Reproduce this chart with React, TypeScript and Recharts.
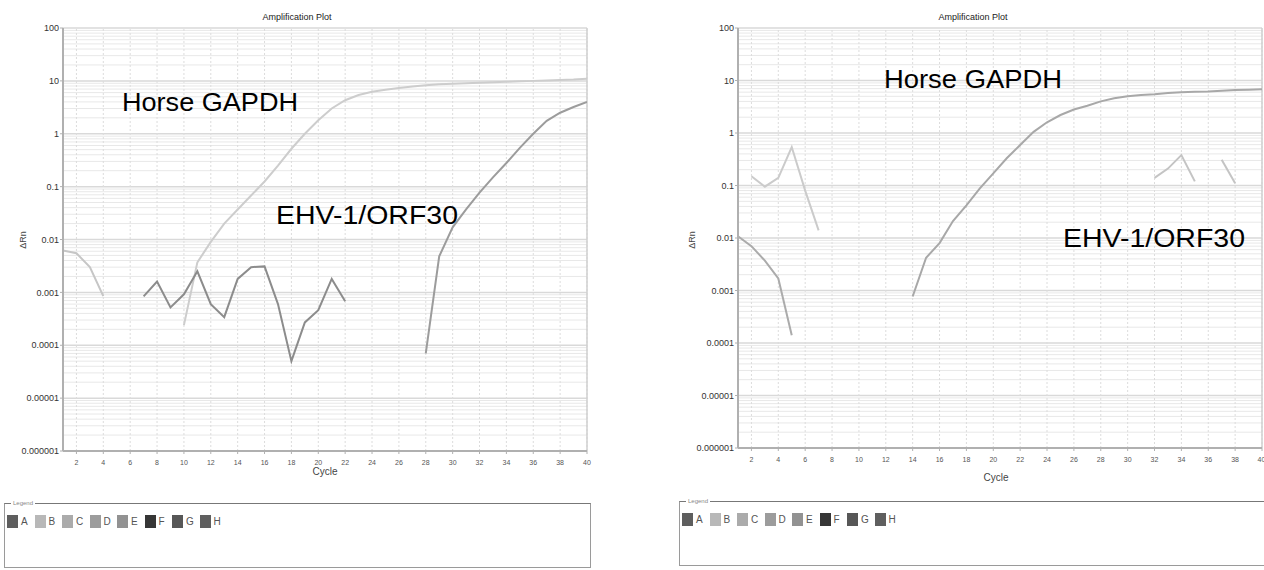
import React from 'react'
import { LineChart, Line, XAxis, YAxis, ReferenceLine } from 'recharts'

// cycle numbers on the x axis
const cycles = [1, 2, 3, 4, 5, 6, 7, 8, 9, 10, 11, 12, 13, 14, 15, 16, 17, 18, 19, 20,
  21, 22, 23, 24, 25, 26, 27, 28, 29, 30, 31, 32, 33, 34, 35, 36, 37, 38, 39, 40]
const cycleTicks = [2, 4, 6, 8, 10, 12, 14, 16, 18, 20, 22, 24, 26, 28, 30, 32, 34, 36, 38, 40]
const yTicks = [0.000001, 0.00001, 0.0001, 0.001, 0.01, 0.1, 1, 10, 100]
const yTickLabels = ['0.000001', '0.00001', '0.0001', '0.001', '0.01', '0.1', '1', '10', '100']

const wells = ['A', 'B', 'C', 'D', 'E', 'F', 'G', 'H']
const wellColors = ['#5e5e5e', '#b8b8b8', '#ababab', '#9c9c9c', '#929292', '#363636', '#575757', '#5f5f5f']

// left plot: each series starts at the given cycle
const leftGapdhStart = 10
const leftGapdh = [0.00024, 0.0037, 0.009, 0.02, 0.037, 0.068, 0.125, 0.25, 0.52, 1.0, 1.8, 3.0, 4.3,
  5.4, 6.2, 6.8, 7.3, 7.8, 8.3, 8.6, 8.8, 9.0, 9.2, 9.4, 9.6, 9.8, 10.0, 10.2, 10.4, 10.6, 11.0]
const leftEarlyStart = 1
const leftEarly = [0.0062, 0.0055, 0.003, 0.00085]
const leftNoiseStart = 7
const leftNoise = [0.00084, 0.0016, 0.00052, 0.00092, 0.0025, 0.0006, 0.00034, 0.0018, 0.003, 0.0031,
  0.0006, 0.00005, 0.00027, 0.00046, 0.0018, 0.00068]
const leftEhvStart = 28
const leftEhv = [0.00007, 0.0048, 0.017, 0.037, 0.077, 0.15, 0.28, 0.54, 1.0, 1.76, 2.5, 3.2, 4.0]

// right plot
const rightGapdhStart = 14
const rightGapdh = [0.00077, 0.0042, 0.008, 0.021, 0.042, 0.088, 0.17, 0.33, 0.59, 1.05, 1.6, 2.2, 2.8,
  3.3, 4.0, 4.6, 5.0, 5.3, 5.5, 5.8, 6.0, 6.1, 6.2, 6.4, 6.6, 6.7, 6.8]
const rightEarlyLightStart = 2
const rightEarlyLight = [0.15, 0.095, 0.14, 0.54, 0.08, 0.014]
const rightEarlyDarkStart = 1
const rightEarlyDark = [0.0108, 0.007, 0.0037, 0.0017, 0.00014]
const rightLateAStart = 32
const rightLateA = [0.14, 0.21, 0.38, 0.12]
const rightLateBStart = 37
const rightLateB = [0.31, 0.11]

const at = (vals: number[], start: number, c: number) => {
  const i = c - start
  return i >= 0 && i < vals.length ? vals[i] : null
}

const leftData = cycles.map(c => ({
  cycle: c,
  gapdh: at(leftGapdh, leftGapdhStart, c),
  early: at(leftEarly, leftEarlyStart, c),
  noise: at(leftNoise, leftNoiseStart, c),
  ehv: at(leftEhv, leftEhvStart, c),
}))

const rightData = cycles.map(c => ({
  cycle: c,
  gapdh: at(rightGapdh, rightGapdhStart, c),
  earlyLight: at(rightEarlyLight, rightEarlyLightStart, c),
  earlyDark: at(rightEarlyDark, rightEarlyDarkStart, c),
  lateA: at(rightLateA, rightLateAStart, c),
  lateB: at(rightLateB, rightLateBStart, c),
}))

// log grid lines: 2..9 x each decade
const minorGrid: number[] = []
for (let e = -6; e < 2; e++) {
  for (let m = 2; m < 10; m++) minorGrid.push(Number((m * Math.pow(10, e)).toPrecision(3)))
}

const narrow = "'Liberation Sans Narrow', 'Arial Narrow', 'Liberation Sans', Arial, sans-serif"

interface SeriesDef { key: string; color: string }

const Plot = ({ data, series, left, width, right, bottom }:
  { data: any[]; series: SeriesDef[]; left: number; width: number; right: number; bottom: number }) => (
  <div style={{ position: 'absolute', left, top: 0 }}>
    <LineChart width={width} height={480} data={data} margin={{ top: 28, right, bottom, left: 0 }}>
      {minorGrid.map(v => (
        <ReferenceLine key={'m' + v} y={v} stroke="#e8e8e8" strokeWidth={1} />
      ))}
      {yTicks.map(v => (
        <ReferenceLine key={'d' + v} y={v} stroke="#d9d9d9" strokeWidth={1.5} />
      ))}
      {cycleTicks.map(c => (
        <ReferenceLine key={'x' + c} x={c} stroke="#dcdcdc" strokeDasharray="2 2" />
      ))}
      <ReferenceLine x={40} stroke="#cfcfcf" strokeWidth={1.5} />
      <XAxis dataKey="cycle" type="number" domain={[1, 40]} ticks={cycleTicks} allowDataOverflow
        height={20} tickSize={3} tickMargin={6} tickLine={{ stroke: '#b0b0b0' }}
        axisLine={{ stroke: '#b0b0b0', strokeWidth: 2 }}
        tick={{ fontSize: 7, fill: '#555', fontFamily: narrow }} />
      <YAxis type="number" scale="log" domain={[0.000001, 100]} ticks={yTicks} allowDataOverflow
        width={63} tickSize={3} tickMargin={1} tickLine={{ stroke: '#b0b0b0' }}
        axisLine={{ stroke: '#b0b0b0', strokeWidth: 2 }}
        tickFormatter={(v: number) => yTickLabels[yTicks.indexOf(v)] ?? String(v)}
        tick={{ fontSize: 9, fill: '#333', fontFamily: narrow }} />
      {series.map(s => (
        <Line key={s.key} dataKey={s.key} type="linear" stroke={s.color} strokeWidth={2}
          dot={false} connectNulls={false} isAnimationActive={false} />
      ))}
    </LineChart>
  </div>
)

const LegendBox = ({ left, top, width }: { left: number; top: number; width: number }) => (
  <div style={{ position: 'absolute', left, top, width, height: 65, boxSizing: 'border-box',
    border: '1.5px solid #9a9a9a', borderTopColor: '#777' }}>
    <span style={{ position: 'absolute', left: 6, top: -5, fontSize: 6, lineHeight: '8px', color: '#888',
      background: '#fff', padding: '0 2px', fontFamily: narrow }}>Legend</span>
    {wells.map((w, i) => (
      <div key={w} style={{ position: 'absolute', left: 2 + i * 27.5, top: 11, display: 'flex', alignItems: 'center' }}>
        <div style={{ width: 11, height: 13, background: wellColors[i] }} />
        <span style={{ marginLeft: 3, fontSize: 10, color: '#555', fontFamily: narrow }}>{w}</span>
      </div>
    ))}
  </div>
)

const App = () => (
  <div style={{ position: 'absolute', left: 0, top: 0, width: 1264, height: 570, background: '#fff', overflow: 'hidden' }}>
    <Plot data={leftData} left={0} width={600} right={13} bottom={9}
      series={[
        { key: 'early', color: '#c6c6c6' },
        { key: 'gapdh', color: '#cdcdcd' },
        { key: 'noise', color: '#8c8c8c' },
        { key: 'ehv', color: '#9c9c9c' },
      ]} />
    <Plot data={rightData} left={675} width={590} right={3} bottom={12}
      series={[
        { key: 'earlyLight', color: '#cbcbcb' },
        { key: 'earlyDark', color: '#ababab' },
        { key: 'gapdh', color: '#a8a8a8' },
        { key: 'lateA', color: '#c4c4c4' },
        { key: 'lateB', color: '#c4c4c4' },
      ]} />
    <svg width={1264} height={570} style={{ position: 'absolute', left: 0, top: 0, pointerEvents: 'none' }}>
      <g fontFamily={narrow} fill="#222">
        <text x={297} y={20} fontSize={9} textAnchor="middle">Amplification Plot</text>
        <text x={973} y={20} fontSize={9} textAnchor="middle">Amplification Plot</text>
        <text x={325} y={475} fontSize={10} textAnchor="middle" fill="#444">Cycle</text>
        <text x={996} y={481} fontSize={10} textAnchor="middle" fill="#444">Cycle</text>
        <text x={0} y={0} fontSize={9} textAnchor="middle" fill="#444" transform="translate(26,240) rotate(-90)">ΔRn</text>
        <text x={0} y={0} fontSize={9} textAnchor="middle" fill="#444" transform="translate(695,240) rotate(-90)">ΔRn</text>
      </g>
      <g fontFamily="'Liberation Sans', Arial, sans-serif" fill="#000" fontSize={26}>
        <text x={122} y={111} textLength={176} lengthAdjust="spacingAndGlyphs">Horse GAPDH</text>
        <text x={276} y={224} textLength={182} lengthAdjust="spacingAndGlyphs">EHV-1/ORF30</text>
        <text x={884} y={88} textLength={178} lengthAdjust="spacingAndGlyphs">Horse GAPDH</text>
        <text x={1063} y={247} textLength={182} lengthAdjust="spacingAndGlyphs">EHV-1/ORF30</text>
      </g>
    </svg>
    <LegendBox left={4} top={503} width={587} />
    <LegendBox left={679} top={501} width={592} />
  </div>
)

export default App
